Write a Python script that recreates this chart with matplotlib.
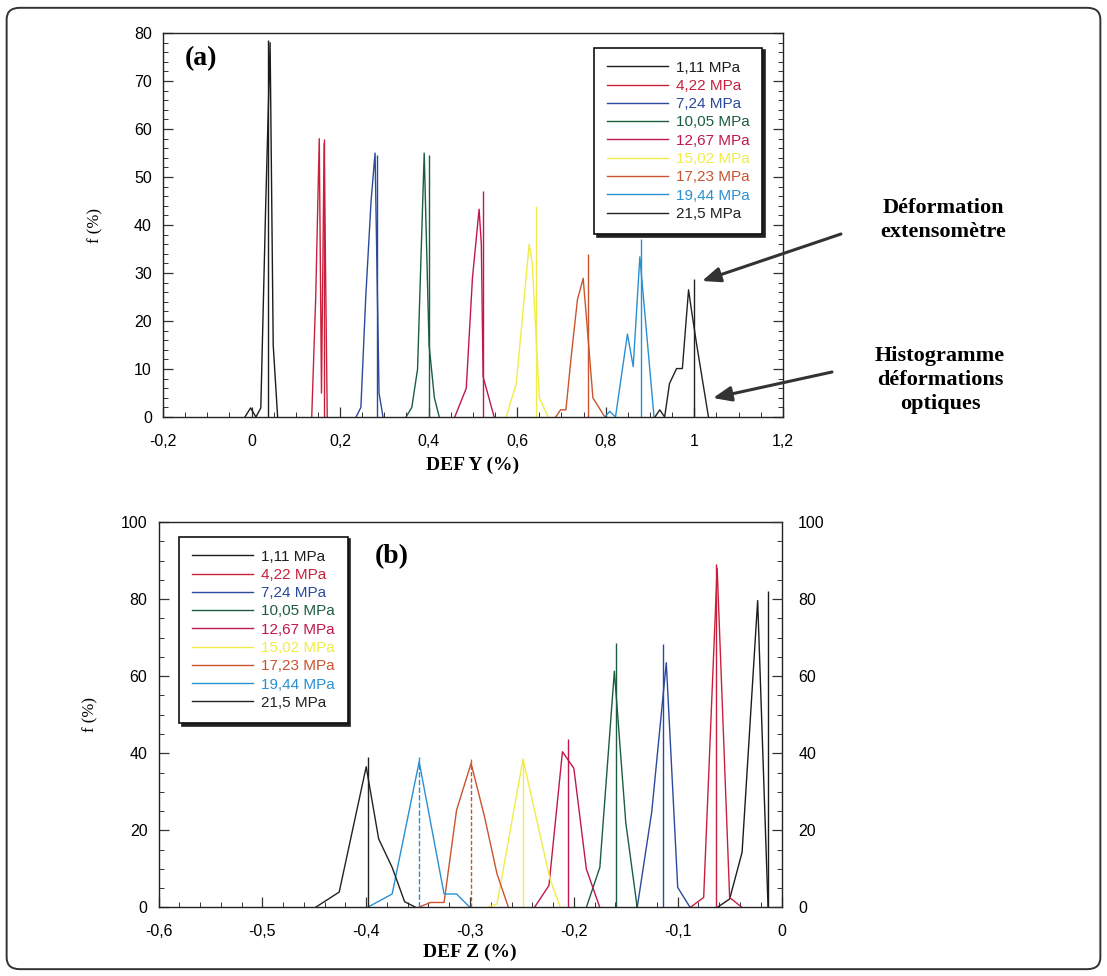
"""Histogrammes des deformations optiques, DEF Y et DEF Z, pour chaque palier de pression."""

import matplotlib
matplotlib.use("Agg")
from matplotlib import pyplot as plt
from matplotlib.patches import FancyBboxPatch
from matplotlib.ticker import MultipleLocator, FuncFormatter

# ---------------------------------------------------------------- data
pressures = ["1,11 MPa", "4,22 MPa", "7,24 MPa", "10,05 MPa", "12,67 MPa",
             "15,02 MPa", "17,23 MPa", "19,44 MPa", "21,5 MPa"]

# panel (a): DEF Y (%) -> f (%)
defy_x = [
    [-0.015, -0.002, 0.010, 0.021, 0.032, 0.042, 0.049, 0.059],
    [0.136, 0.145, 0.153, 0.158, 0.164, 0.171],
    [0.236, 0.247, 0.258, 0.270, 0.279, 0.288, 0.297],
    [0.349, 0.362, 0.375, 0.390, 0.401, 0.413, 0.424],
    [0.459, 0.485, 0.499, 0.514, 0.519, 0.523, 0.548],
    [0.575, 0.598, 0.613, 0.627, 0.634, 0.650, 0.670],
    [0.687, 0.698, 0.710, 0.722, 0.736, 0.749, 0.757, 0.771, 0.798],
    [0.798, 0.809, 0.822, 0.849, 0.862, 0.877, 0.909],
    [0.911, 0.922, 0.933, 0.944, 0.960, 0.973, 0.987, 0.994, 1.005, 1.032],
]
defy_f = [
    [0, 1.9, 0, 1.9, 44, 78, 15, 0],
    [0, 25, 58, 5, 57, 0],
    [0, 2, 25, 45, 55, 5, 0],
    [0, 2, 10, 55, 15, 4, 0],
    [0, 6, 29, 43.3, 36, 8.4, 0],
    [0, 7, 22, 36, 32, 4, 0],
    [0, 1.5, 1.5, 12.6, 24.4, 28.9, 20, 4, 0],
    [0, 1.2, 0, 17.3, 10.5, 33.4, 0],
    [0, 1.5, 0, 7, 10.1, 10.1, 26.5, 22, 15.3, 0],
]
# extensometer strain (vertical lines), panel (a)
ext_y = [0.038, 0.163, 0.284, 0.401, 0.522, 0.642, 0.761, 0.879, 0.999]
ext_y_f = [78.5, 58, 54.5, 54.5, 47, 44, 34, 37, 28.7]

# panel (b): DEF Z (%) -> f (%)
defz_x = [
    [-0.062, -0.050, -0.038, -0.023, -0.013],
    [-0.088, -0.075, -0.062, -0.050, -0.038],
    [-0.139, -0.125, -0.111, -0.100, -0.088],
    [-0.188, -0.175, -0.161, -0.150, -0.139],
    [-0.238, -0.224, -0.211, -0.200, -0.188, -0.175],
    [-0.284, -0.274, -0.249, -0.223, -0.213],
    [-0.350, -0.338, -0.325, -0.313, -0.299, -0.286, -0.274, -0.263],
    [-0.399, -0.375, -0.349, -0.325, -0.313, -0.300],
    [-0.449, -0.426, -0.400, -0.388, -0.375, -0.363, -0.352],
]
defz_f = [
    [0, 2.2, 14.3, 79.6, 0],
    [0, 2.6, 88, 2.6, 0],
    [0, 24.8, 63.5, 5.2, 0],
    [0, 10.4, 61.3, 22, 0],
    [0, 5.7, 40.4, 36.1, 10, 0],
    [0, 0.9, 38.5, 7.4, 0],
    [0, 1.3, 1.3, 25.2, 37.4, 23.5, 8.7, 0],
    [0, 3.5, 37.8, 3.5, 3.5, 0],
    [0, 4, 36.5, 17.8, 10.4, 1.5, 0],
]
ext_z = [-0.013, -0.063, -0.114, -0.159, -0.206, -0.249, -0.299, -0.349, -0.398]
ext_z_f = [82, 89, 68.3, 68.5, 43.7, 38.5, 39.1, 39, 39]

# ---------------------------------------------------------------- style
colors = ["#1c1c1c", "#c8203c", "#2b4a9c", "#1b5e3f", "#c0184a",
          "#f0ec48", "#c9542e", "#2a90d2", "#222222"]
ext_b_styles = ["-", "-", "-", "-", "-", "-", (0, (3, 1.5)), (0, (4, 1.5)), "-"]

SERIF = "Liberation Serif"
SANS = "Liberation Sans"
plt.rcParams["font.family"] = SANS

comma = FuncFormatter(lambda v, pos: ("%g" % round(v, 3)).replace(".", ","))

fig = plt.figure(figsize=(11.07, 9.76), dpi=100)

# rounded frame around the whole figure
fig.patches.append(FancyBboxPatch((0.006, 0.007), 0.988, 0.985,
                                  boxstyle="round,pad=0,rounding_size=0.012",
                                  transform=fig.transFigure, fill=False,
                                  edgecolor="#333333", linewidth=1.4))


def style_axes(ax, xminor, yminor):
    for s in ax.spines.values():
        s.set_linewidth(1.0)
        s.set_color("#222222")
    ax.xaxis.set_minor_locator(MultipleLocator(xminor))
    ax.yaxis.set_minor_locator(MultipleLocator(yminor))
    ax.xaxis.set_major_formatter(comma)
    ax.yaxis.set_major_formatter(comma)
    ax.tick_params(which="both", direction="in", top=False, labelsize=11.5,
                   color="#333333")
    ax.tick_params(which="major", length=7, width=0.9)
    ax.tick_params(which="minor", length=3.5, width=0.7)
    ax.tick_params(axis="x", which="major", pad=12)
    ax.tick_params(axis="y", which="major", pad=8)


def add_legend(ax, anchor):
    leg = ax.legend(loc="upper left", bbox_to_anchor=anchor, fontsize=11,
                    handlelength=4.0, handletextpad=0.5, labelspacing=0.28,
                    borderpad=0.85, borderaxespad=0, fancybox=False,
                    framealpha=1, edgecolor="#111111",
                    shadow={"color": "#222222", "alpha": 1})
    leg.get_frame().set_linewidth(1.2)
    for txt, c in zip(leg.get_texts(), colors):
        txt.set_color(c)
    return leg


# ---------------------------------------------------------------- (a)
ax1 = fig.add_axes([0.1472, 0.5727, 0.560, 0.3934])
for i in range(len(pressures)):
    ax1.plot(defy_x[i], defy_f[i], color=colors[i], lw=1.0, label=pressures[i])
    ax1.vlines(ext_y[i], 0, ext_y_f[i], color=colors[i], lw=1.0)
ax1.set_xlim(-0.2, 1.2)
ax1.set_ylim(0, 80)
ax1.xaxis.set_major_locator(MultipleLocator(0.2))
ax1.yaxis.set_major_locator(MultipleLocator(10))
style_axes(ax1, 0.05, 2)
ax1.tick_params(which="both", right=True)
ax1.set_xlabel("DEF Y (%)", family=SERIF, fontweight="bold", fontsize=14, labelpad=6)
ax1.set_ylabel("f (%)", family=SERIF, fontsize=12, labelpad=22)
ax1.text(0.062, 0.934, "(a)", transform=ax1.transAxes, family=SERIF,
         fontweight="bold", fontsize=20, ha="center", va="center")
add_legend(ax1, (0.695, 0.962))

# annotations on the right
fig.text(943 / 1107, 1 - 220 / 976, "Déformation\nextensomètre", family=SERIF,
         fontweight="bold", fontsize=16, ha="center", va="center", linespacing=1.25)
fig.text(940 / 1107, 1 - 380 / 976, "Histogramme\ndéformations\noptiques",
         family=SERIF, fontweight="bold", fontsize=16, ha="center", va="center",
         linespacing=1.25)
arrow = dict(arrowstyle="-|>,head_length=1.1,head_width=0.45", color="#333333",
             lw=2.2, shrinkA=0, shrinkB=0)
ax1.annotate("", xy=(702 / 1107, 1 - 281 / 976), xycoords="figure fraction",
             xytext=(841 / 1107, 1 - 234 / 976), textcoords="figure fraction",
             arrowprops=arrow)
ax1.annotate("", xy=(713 / 1107, 1 - 398 / 976), xycoords="figure fraction",
             xytext=(832 / 1107, 1 - 372 / 976), textcoords="figure fraction",
             arrowprops=arrow)

# ---------------------------------------------------------------- (b)
ax2 = fig.add_axes([0.1432, 0.0702, 0.5628, 0.395])
for i in range(len(pressures)):
    ax2.plot(defz_x[i], defz_f[i], color=colors[i], lw=1.0, label=pressures[i])
    ax2.vlines(ext_z[i], 0, ext_z_f[i], color=colors[i], lw=1.0,
               linestyles=ext_b_styles[i])
ax2.set_xlim(-0.6, 0.0)
ax2.set_ylim(0, 100)
ax2.xaxis.set_major_locator(MultipleLocator(0.1))
ax2.yaxis.set_major_locator(MultipleLocator(20))
style_axes(ax2, 0.02, 5)
ax2.set_xlabel("DEF Z (%)", family=SERIF, fontweight="bold", fontsize=14, labelpad=3)
ax2.set_ylabel("f (%)", family=SERIF, fontsize=12, labelpad=16)
ax2.text(0.374, 0.91, "(b)", transform=ax2.transAxes, family=SERIF,
         fontweight="bold", fontsize=20, ha="center", va="center")
add_legend(ax2, (0.033, 0.962))

ax2r = ax2.twinx()
ax2r.set_ylim(0, 100)
ax2r.yaxis.set_major_locator(MultipleLocator(20))
ax2r.yaxis.set_minor_locator(MultipleLocator(5))
ax2r.yaxis.set_major_formatter(comma)
ax2r.tick_params(which="both", direction="in", labelsize=11.5, color="#333333")
ax2r.tick_params(which="major", length=7, width=0.9, pad=12)
ax2r.tick_params(which="minor", length=3.5, width=0.7)
for s in ax2r.spines.values():
    s.set_visible(False)

fig.savefig("out.png", dpi=100)
